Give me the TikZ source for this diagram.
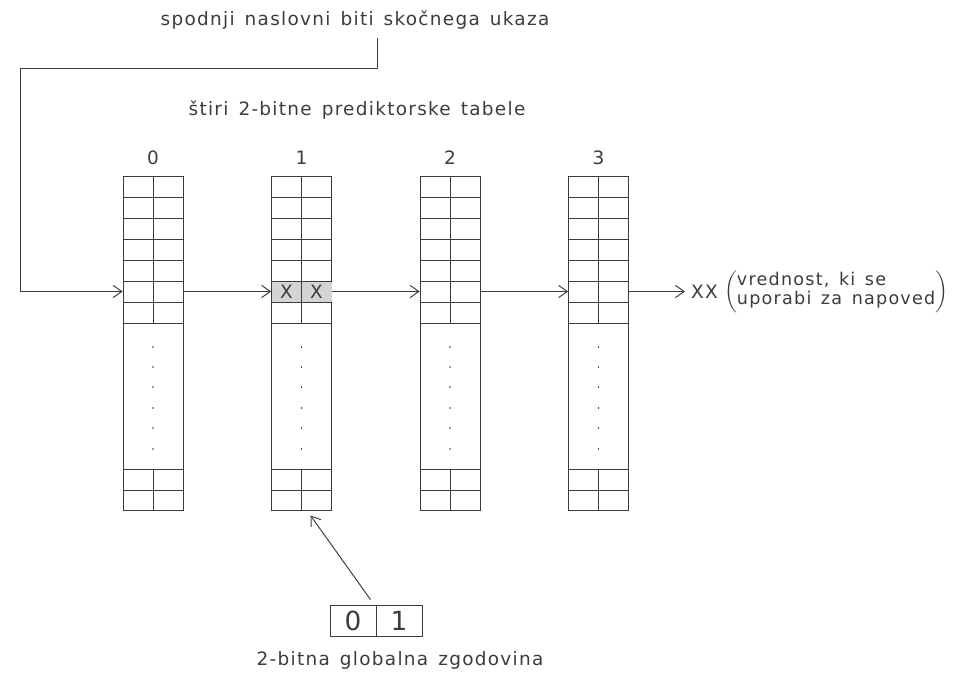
\documentclass[tikz,border=0pt]{standalone}
\usepackage{fontspec}
\setmainfont{DejaVu Sans}[LetterSpace=7, WordSpace=1.4]
\usepackage{tikz}
\usetikzlibrary{positioning, arrows.meta, calc}
\definecolor{LnGray}{RGB}{60,60,60}
\definecolor{HiGray}{RGB}{212,212,212}

\begin{document}
\begin{tikzpicture}[x=0.02cm, y=-0.02cm,
          ln/.style={LnGray, line width=0.55pt},
          arr/.style={ln, -{Straight Barb[length=5pt, width=7pt]}},
          tab/.style={draw=LnGray, line width=0.55pt, minimum width=1.2cm,
                      minimum height=6.7cm, inner sep=0pt},
          rw/.style={minimum width=1.2cm, minimum height=0.42cm, inner sep=0pt},
          hb/.style={draw=LnGray, line width=0.55pt, minimum width=0.92cm,
                     minimum height=0.62cm, inner sep=0pt,
                     font=\fontsize{15}{16}\selectfont, text=LnGray},
          lbl/.style={font=\fontsize{10.5}{12}\selectfont, text=LnGray}
        ]
        \useasboundingbox (0,0) rectangle (959,679);

        % Titles
        \node[lbl] (addr) at (355, 20) {spodnji naslovni biti skočnega ukaza};
        \node[lbl] (title) at (357, 110) {štiri 2-bitne prediktorske tabele};

        % Four predictor tables
        \foreach \i/\x in {0/153, 1/301.5, 2/450, 3/598.5} {
          \node[tab] (t\i) at (\x, 343.5) {};
          \node[lbl] (n\i) at (\x, 158) {\i};
          \node[rw] (r\i) at (\x, 291.5) {};
          \foreach \y in {197, 218, 239, 260, 281, 302, 323, 469, 490}
            \draw[ln] (\x-30, \y) -- (\x+30, \y);
          \draw[ln] (\x, 176) -- (\x, 323);
          \draw[ln] (\x, 469) -- (\x, 511);
          \foreach \y in {347, 367, 387, 408, 428, 449}
            \fill[LnGray] (\x, \y) circle (0.5pt);
        }

        % Selected entry in table 1
        \fill[HiGray] (271.5, 281) rectangle (331.5, 302);
        \draw[ln] (271.5, 281) -- (331.5, 281) (271.5, 302) -- (331.5, 302)
                  (301.5, 281) -- (301.5, 302);
        \node[lbl] (x0) at (286.5, 291.5) {X};
        \node[lbl] (x1) at (316.5, 291.5) {X};

        % Address bits into the tables
        \coordinate (tap) at (377, 38);
        \draw[arr] (tap) -- (377, 68) -- (20, 68) |- (r0.west);
        \draw[arr] (r0.east) -- (r1.west);
        \draw[arr] (r1.east) -- (r2.west);
        \draw[arr] (r2.east) -- (r3.west);

        % Output
        \node[lbl, anchor=west] (xx) at (685, 291.5) {XX};
        \node[lbl, right=-3.5pt of xx, font=\fontsize{10}{10.5}\selectfont]
              (note) {$\left(\begin{tabular}{@{}l@{}}vrednost, ki se\\
                      uporabi za napoved\end{tabular}\right)$};
        \draw[arr] (r3.east) -- (xx.west);

        % Global history register
        \node[hb] (h0) at (353, 620.5) {0};
        \node[hb] (h1) at (399, 620.5) {1};
        \draw[arr] ([xshift=-0.12cm, yshift=0.1cm]h0.north east)
                -- ([xshift=0.18cm, yshift=-0.08cm]t1.south);
        \node[lbl] (hist) at (400, 660) {2-bitna globalna zgodovina};
      \end{tikzpicture}
\end{document}
